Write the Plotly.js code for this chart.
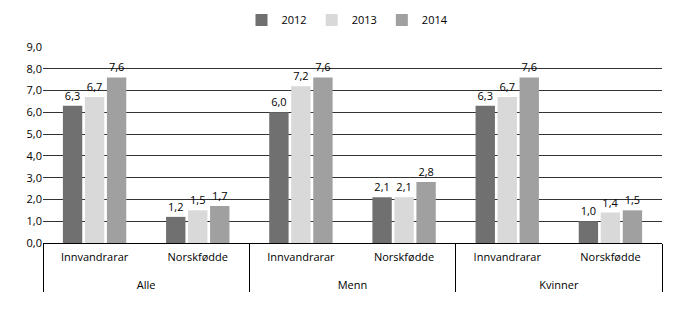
<!DOCTYPE html>
<html><head><meta charset="utf-8">
<script src="https://cdn.plot.ly/plotly-3.0.1.min.js"></script>
<style>body{margin:0;background:#fff}#c{width:695px;height:309px}</style>
</head><body><div id="c"></div>
<script>
const groups = ["Alle","Alle","Menn","Menn","Kvinner","Kvinner"];
const subgroups = ["Innvandrarar","Norskfødde","Innvandrarar","Norskfødde","Innvandrarar","Norskfødde"];
const years = ["2012","2013","2014"];
const v2012 = [6.3, 1.2, 6.0, 2.1, 6.3, 1.0];
const v2013 = [6.7, 1.5, 7.2, 2.1, 6.7, 1.4];
const v2014 = [7.6, 1.7, 7.6, 2.8, 7.6, 1.5];
const colors = ["#707070", "#d9d9d9", "#a0a0a0"];
const series = [v2012, v2013, v2014];
// push the outer (group) level of the category axis down one line, as in the reference
const groupLabels = groups.map(g => "<br>" + g);
const traces = series.map((vals, i) => ({
  type: "bar",
  name: years[i],
  x: [groupLabels, subgroups],
  y: vals,
  marker: {color: colors[i]},
  texttemplate: "%{y:.1f}",
  textposition: "outside",
  cliponaxis: false,
  textfont: {size: 11, color: "#000"}
}));
const layout = {
  width: 695, height: 309,
  margin: {l: 43, r: 33, t: 47, b: 66, autoexpand: false},
  separators: ", ",
  font: {family: "Open Sans, sans-serif", size: 11, color: "#000"},
  barmode: "group",
  bargap: 0.36,
  bargroupgap: 0.12,
  showlegend: true,
  legend: {orientation: "h", x: 0.5, xanchor: "center", xref: "container",
           y: 0.935, yanchor: "middle", yref: "container",
           font: {size: 11}, itemwidth: 30, tracegroupgap: 0},
  xaxis: {
    type: "multicategory",
    showline: true, linecolor: "#000", linewidth: 1,
    showdividers: true, dividercolor: "#000", dividerwidth: 1,
    ticks: "", tickfont: {size: 11}, ticklabelstandoff: 4
  },
  yaxis: {
    range: [0, 9], dtick: 1, tickformat: ".1f",
    showgrid: true, gridcolor: "#333", gridwidth: 1,
    zeroline: false, ticks: "", tickfont: {size: 11},
    showline: false
  },
  plot_bgcolor: "#fff", paper_bgcolor: "#fff"
};
Plotly.newPlot("c", traces, layout, {displayModeBar: false, staticPlot: true});
</script></body></html>
